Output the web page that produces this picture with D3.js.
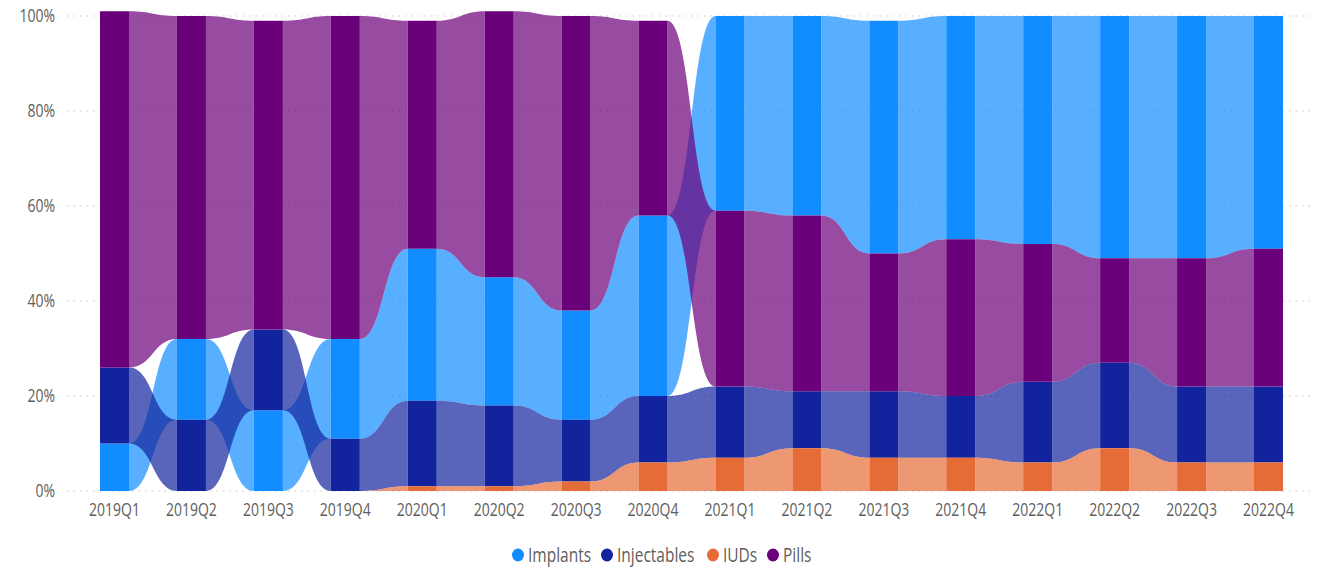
<!DOCTYPE html>
<html>
<head>
<meta charset="utf-8">
<script src="https://cdnjs.cloudflare.com/ajax/libs/d3/7.8.5/d3.min.js"></script>
<style>
    body { margin: 0; background: #fff; }
    svg { display: block; font-family: "Segoe UI", "Open Sans", sans-serif; }
    .tick-label { fill: #605E5C; font-size: 14px; }
    .legend-label { fill: #605E5C; font-size: 15.5px; }
</style>
</head>
<body>
<svg width="1317" height="567"></svg>
<script>
    // quarterly shares (%) per method
    var quarters = ["2019Q1", "2019Q2", "2019Q3", "2019Q4", "2020Q1", "2020Q2", "2020Q3", "2020Q4",
        "2021Q1", "2021Q2", "2021Q3", "2021Q4", "2022Q1", "2022Q2", "2022Q3", "2022Q4"];
    var implants    = [10, 17, 17, 21, 32, 27, 23, 38, 41, 42, 49, 47, 48, 51, 51, 49];
    var injectables = [16, 15, 17, 11, 18, 17, 13, 14, 15, 12, 14, 13, 17, 18, 16, 16];
    var iuds        = [0, 0, 0, 0, 1, 1, 2, 6, 7, 9, 7, 7, 6, 9, 6, 6];
    var pills       = [75, 68, 65, 68, 48, 56, 62, 41, 37, 37, 29, 33, 29, 22, 27, 29];
    var yTicks = [0, 20, 40, 60, 80, 100];

    var seriesNames = ["Implants", "Injectables", "IUDs", "Pills"];
    var seriesValues = [implants, injectables, iuds, pills];
    var colors = ["#118DFF", "#12239E", "#E66C37", "#6B007B"];

    var svg = d3.select("svg");

    var x = d3.scaleBand().domain(quarters).range([100, 1283]).paddingInner(0.623).paddingOuter(0),
        y = d3.scaleLinear().domain([0, 100]).range([491, 16]),
        bw = x.bandwidth();

    // text is a bit taller than wide in the original
    function tall(px, py) {
        return "translate(" + px + "," + py + ") scale(1,1.25)";
    }

    // ribbon chart: in every column the largest value goes on top
    var stacks = quarters.map(function(q, i) {
        var order = d3.range(seriesNames.length).sort(function(a, b) {
            return seriesValues[a][i] - seriesValues[b][i] || a - b;
        });
        var pos = {}, acc = 0;
        order.forEach(function(s) {
            pos[s] = [acc, acc + seriesValues[s][i]];
            acc += seriesValues[s][i];
        });
        return pos;
    });

    // gridlines
    svg.append("g")
        .selectAll("line")
        .data(yTicks)
        .enter().append("line")
        .attr("x1", 67)
        .attr("x2", 1310)
        .attr("y1", function(d) { return y(d); })
        .attr("y2", function(d) { return y(d); })
        .style("stroke", "#C8C6C4")
        .style("stroke-width", 1)
        .style("stroke-dasharray", "1.5,5");

    svg.append("g")
        .selectAll("text")
        .data(yTicks)
        .enter().append("text")
        .attr("class", "tick-label")
        .attr("transform", function(d) { return tall(55, y(d)); })
        .attr("dy", "0.35em")
        .attr("text-anchor", "end")
        .text(function(d) { return d + "%"; });

    // ribbons between neighbouring columns
    var ribbons = [];
    seriesNames.forEach(function(name, s) {
        for (var i = 0; i < quarters.length - 1; i++) {
            ribbons.push({ s: s, a: stacks[i][s], b: stacks[i + 1][s], xa: x(quarters[i]) + bw, xb: x(quarters[i + 1]) });
        }
    });

    function ribbonPath(d) {
        var mx = (d.xa + d.xb) / 2;
        var a0 = y(d.a[0]), a1 = y(d.a[1]), b0 = y(d.b[0]), b1 = y(d.b[1]);
        return "M" + d.xa + "," + a1 +
            "C" + mx + "," + a1 + " " + mx + "," + b1 + " " + d.xb + "," + b1 +
            "L" + d.xb + "," + b0 +
            "C" + mx + "," + b0 + " " + mx + "," + a0 + " " + d.xa + "," + a0 + "Z";
    }

    svg.append("g")
        .selectAll("path")
        .data(ribbons)
        .enter().append("path")
        .attr("d", ribbonPath)
        .style("fill", function(d) { return colors[d.s]; })
        .style("fill-opacity", 0.7);

    // columns
    var cols = [];
    quarters.forEach(function(q, i) {
        seriesNames.forEach(function(name, s) {
            cols.push({ q: q, s: s, v: stacks[i][s] });
        });
    });

    svg.append("g")
        .selectAll("rect")
        .data(cols)
        .enter().append("rect")
        .attr("x", function(d) { return x(d.q); })
        .attr("y", function(d) { return y(d.v[1]); })
        .attr("width", bw)
        .attr("height", function(d) { return y(d.v[0]) - y(d.v[1]); })
        .style("fill", function(d) { return colors[d.s]; });

    svg.append("g")
        .selectAll("text")
        .data(quarters)
        .enter().append("text")
        .attr("class", "tick-label")
        .attr("transform", function(d) { return tall(x(d) + bw / 2, 510); })
        .attr("dy", "0.35em")
        .attr("text-anchor", "middle")
        .text(function(d) { return d; });

    // legend
    var legendX = [518, 607, 713, 773];
    var legend = svg.append("g")
        .selectAll("g")
        .data(seriesNames)
        .enter().append("g")
        .attr("transform", function(d, i) { return "translate(" + legendX[i] + ",555)"; });

    legend.append("ellipse")
        .attr("rx", 6)
        .attr("ry", 6.5)
        .style("fill", function(d, i) { return colors[i]; });

    legend.append("text")
        .attr("class", "legend-label")
        .attr("transform", tall(10, 0))
        .attr("dy", "0.35em")
        .text(function(d) { return d; });
</script>
</body>
</html>
